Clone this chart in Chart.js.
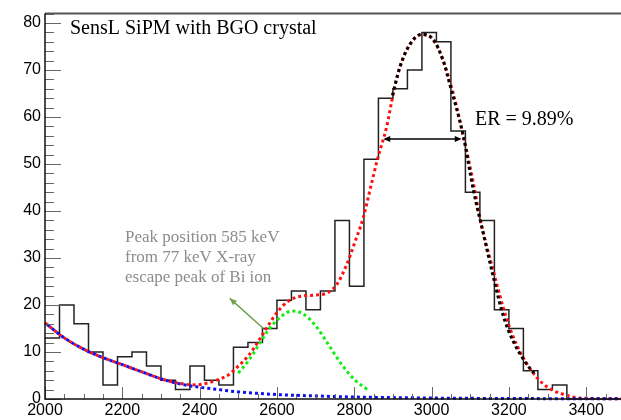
<!DOCTYPE html>
<html>
<head>
<meta charset="utf-8">
<script src="https://cdn.jsdelivr.net/npm/chart.js@4/dist/chart.umd.min.js"></script>
<style>
  html, body { margin: 0; padding: 0; background: #fff; overflow: hidden; }
  canvas { display: block; }
</style>
</head>
<body>
<canvas id="spectrum" width="621" height="420"></canvas>
<script>
// Histogram: 40 bins of 37.5 channels starting at 2000
const binStart = 2000;
const binWidth = 37.5;
const counts = [13, 20, 16, 10, 3, 9, 10, 7, 4, 2, 7, 4, 3, 11, 12, 15, 21, 23, 19, 23,
                38, 24, 51, 64, 66, 70, 78, 76, 57, 44, 38, 19, 15, 6, 2, 3, 0, 0, 0, 0];

// Fit curves
const bgX = [2000, 2050, 2100, 2150, 2200, 2250, 2300, 2350, 2400, 2450, 2500, 2550, 2600, 2700, 2800, 2900, 3000, 3200, 3500];
const bgY = [16.2, 13.0, 10.6, 8.8, 7.3, 5.8, 4.3, 3.2, 2.5, 2.0, 1.5, 1.2, 0.95, 0.65, 0.42, 0.3, 0.2, 0.1, 0.05];

const totalX = [2000, 2050, 2100, 2150, 2200, 2250, 2300, 2350, 2390, 2420, 2444, 2474, 2500, 2526, 2552, 2577, 2603, 2629,
                2664, 2698, 2733, 2755, 2780, 2800, 2823, 2845, 2860, 2884, 2901, 2918, 2944, 2974, 3004, 3030, 3056,
                3082, 3108, 3125, 3159, 3194, 3228, 3272, 3306, 3349, 3383, 3500];
const totalY = [16.2, 13.0, 10.6, 8.8, 7.3, 5.8, 4.3, 3.3, 3.0, 3.4, 4.0, 5.1, 7.0, 9.2, 12.3, 15.6, 18.7, 20.8,
                21.9, 22.1, 22.7, 24.4, 28.5, 33, 38.5, 46, 51, 58, 65, 70.6, 75.4, 77.5, 76.5, 72, 65,
                56, 46, 38.5, 27.5, 17.1, 10.2, 4.6, 2.2, 0.8, 0.2, 0.05];

const escX = [2500, 2526, 2552, 2577, 2603, 2638, 2664, 2698, 2733, 2767, 2802, 2838];
const escY = [5.5, 8.1, 11.4, 14.6, 17.0, 18.7, 18.3, 15.8, 11.6, 7.4, 4.0, 1.8];

const peakX = [2897, 2918, 2944, 2974, 3004, 3030, 3047, 3082, 3108, 3133, 3159, 3185, 3211, 3246, 3265];
const peakY = [64, 70.6, 75.5, 77.6, 76.5, 72, 67, 56, 44.5, 35.5, 26.2, 17.8, 12.3, 7.4, 5.5];

// Tick labels
const xTickLabels = [2000, 2200, 2400, 2600, 2800, 3000, 3200, 3400];
const yTickLabels = [0, 10, 20, 30, 40, 50, 60, 70, 80];

// Annotations (data units)
const titleText = 'SensL SiPM with BGO crystal';
const erText = 'ER = 9.89%';
const erArrow = { x1: 2875, x2: 3078, y: 55.3 };
const noteLines = ['Peak position 585 keV', 'from 77 keV X-ray', 'escape peak of Bi ion'];
const noteArrow = { fromX: 2565, fromY: 15, toX: 2478, toY: 21.4 };

const pairs = (xs, ys) => xs.map((x, i) => ({ x: x, y: ys[i] }));

const histPoints = counts.map((c, i) => ({ x: binStart + i * binWidth, y: c }));
histPoints.push({ x: binStart + counts.length * binWidth, y: counts[counts.length - 1] });

const curve = (data, color, offset) => ({
    data: data,
    borderColor: color,
    borderWidth: 3,
    borderDash: [3, 3],
    borderDashOffset: offset || 0,
    pointRadius: 0,
    cubicInterpolationMode: 'monotone',
    clip: 4,
    fill: false
});

function arrowHead(ctx, fx, fy, tx, ty, len, half) {
    const a = Math.atan2(ty - fy, tx - fx);
    ctx.beginPath();
    ctx.moveTo(tx, ty);
    ctx.lineTo(tx - len * Math.cos(a) + half * Math.sin(a), ty - len * Math.sin(a) - half * Math.cos(a));
    ctx.lineTo(tx - len * Math.cos(a) - half * Math.sin(a), ty - len * Math.sin(a) + half * Math.cos(a));
    ctx.closePath();
    ctx.fill();
}

const rootStyle = {
    id: 'rootStyle',
    afterDatasetsDraw(chart) {
        const { ctx, chartArea: a, scales: { x, y } } = chart;
        ctx.save();

        // axis ticks, drawn inside the frame
        ctx.strokeStyle = '#666';
        ctx.lineWidth = 1;
        ctx.beginPath();
        for (let v = 0; v <= 82; v += 2) {
            const py = Math.round(y.getPixelForValue(v)) + 0.5;
            const len = v % 10 === 0 ? 16 : 9;
            ctx.moveTo(a.left, py);
            ctx.lineTo(a.left + len, py);
        }
        for (let v = 2000; v <= x.max; v += 50) {
            const px = Math.round(x.getPixelForValue(v)) + 0.5;
            const len = v % 200 === 0 ? 12 : 5;
            ctx.moveTo(px, a.bottom);
            ctx.lineTo(px, a.bottom - len);
        }
        ctx.stroke();

        // frame
        ctx.strokeStyle = '#555';
        ctx.lineWidth = 2;
        ctx.beginPath();
        ctx.moveTo(a.left, a.top);
        ctx.lineTo(a.right, a.top);
        ctx.stroke();
        ctx.strokeStyle = '#111';
        ctx.lineWidth = 1.5;
        ctx.beginPath();
        ctx.moveTo(a.left, a.top);
        ctx.lineTo(a.left, a.bottom);
        ctx.lineTo(a.right, a.bottom);
        ctx.stroke();

        // title and ER label
        ctx.fillStyle = '#000';
        ctx.font = '20px "Liberation Serif", "Times New Roman", serif';
        ctx.textBaseline = 'alphabetic';
        ctx.textAlign = 'left';
        ctx.fillText(titleText, 70, 34);
        ctx.fillText(erText, 475, 125);

        // ER arrow
        const ex1 = x.getPixelForValue(erArrow.x1);
        const ex2 = x.getPixelForValue(erArrow.x2);
        const ey = y.getPixelForValue(erArrow.y);
        ctx.strokeStyle = '#000';
        ctx.lineWidth = 1.5;
        ctx.beginPath();
        ctx.moveTo(ex1 + 3, ey);
        ctx.lineTo(ex2 - 3, ey);
        ctx.stroke();
        arrowHead(ctx, ex2, ey, ex1, ey, 7, 3);
        arrowHead(ctx, ex1, ey, ex2, ey, 7, 3);

        // escape peak note
        ctx.fillStyle = '#8c8c8c';
        ctx.font = '17px "Liberation Serif", "Times New Roman", serif';
        noteLines.forEach((t, i) => ctx.fillText(t, 125, 242 + i * 20));

        const fx = x.getPixelForValue(noteArrow.fromX), fy = y.getPixelForValue(noteArrow.fromY);
        const tx = x.getPixelForValue(noteArrow.toX), ty = y.getPixelForValue(noteArrow.toY);
        ctx.strokeStyle = '#6fa04f';
        ctx.fillStyle = '#6fa04f';
        ctx.lineWidth = 1.5;
        ctx.beginPath();
        ctx.moveTo(fx, fy);
        ctx.lineTo(tx, ty);
        ctx.stroke();
        arrowHead(ctx, fx, fy, tx, ty, 7, 3);

        ctx.restore();
    }
};

const ctx = document.getElementById('spectrum').getContext('2d');
new Chart(ctx, {
    type: 'line',
    data: {
        datasets: [
            curve(pairs(peakX, peakY), '#000', 3),
            curve(pairs(bgX, bgY), '#1010ee', 3),
            curve(pairs(totalX, totalY), '#ff1010', 0),
            curve(pairs(escX, escY), '#10ee10', 0),
            {
                data: histPoints,
                stepped: 'before',
                borderColor: '#222',
                borderWidth: 1.5,
                pointRadius: 0,
                clip: 2,
                fill: false
            }
        ]
    },
    options: {
        responsive: false,
        animation: false,
        layout: { padding: { top: 5, right: 0, left: 0, bottom: 0 } },
        plugins: { legend: { display: false }, tooltip: { enabled: false } },
        scales: {
            x: {
                type: 'linear',
                min: 2000,
                max: 3490,
                grid: { display: false, drawTicks: false },
                border: { display: false },
                afterBuildTicks: s => { s.ticks = xTickLabels.map(v => ({ value: v })); },
                afterFit: s => { s.height = 21; },
                ticks: {
                    padding: 2,
                    color: '#000',
                    maxRotation: 0,
                    autoSkip: false,
                    callback: v => String(v),
                    font: { family: '"Liberation Sans", Arial, sans-serif', size: 16 }
                }
            },
            y: {
                min: 0,
                max: 82,
                grid: { display: false, drawTicks: false },
                border: { display: false },
                afterBuildTicks: s => { s.ticks = yTickLabels.map(v => ({ value: v })); },
                afterFit: s => { s.width = 45; },
                ticks: {
                    padding: 4,
                    color: '#000',
                    callback: v => String(v),
                    font: { family: '"Liberation Sans", Arial, sans-serif', size: 16 }
                }
            }
        }
    },
    plugins: [rootStyle]
});
</script>
</body>
</html>
